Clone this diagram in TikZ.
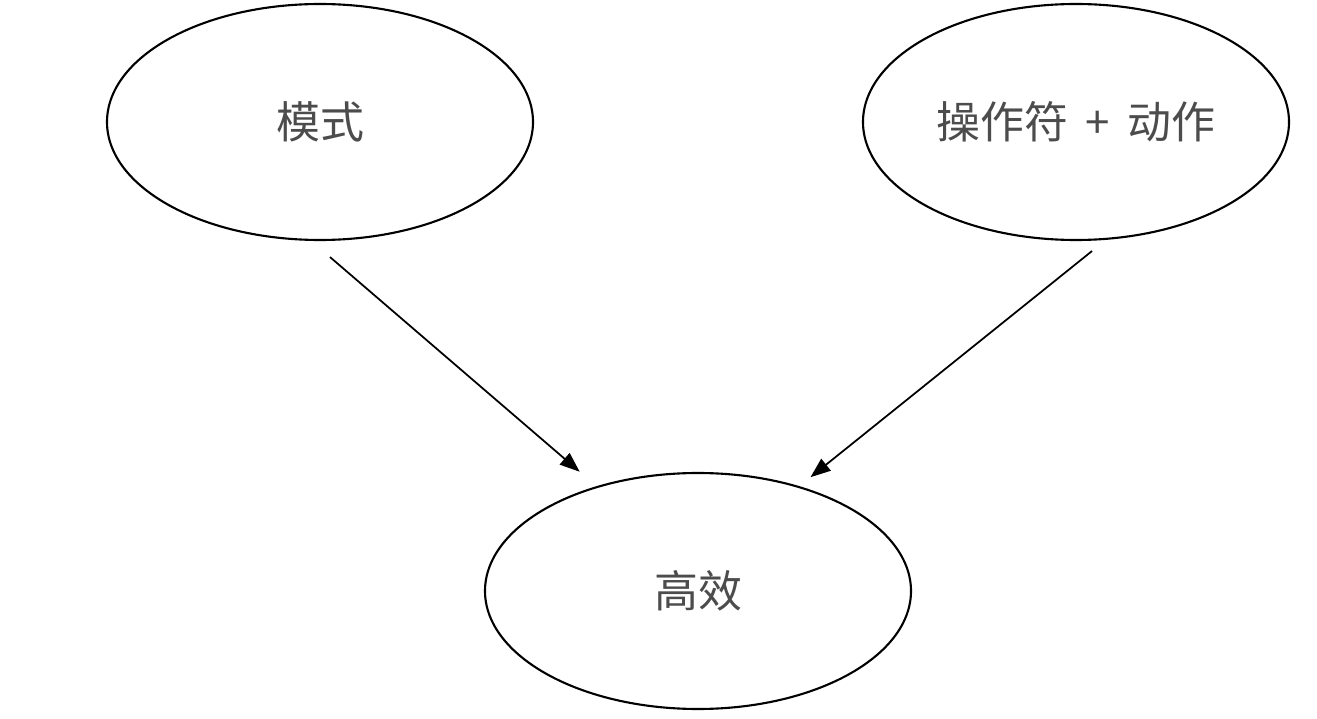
\documentclass[tikz,border=0pt]{standalone}
\usepackage{fontspec}
\newfontfamily\cjk{Noto Sans CJK SC}
\usetikzlibrary{shapes.geometric,arrows.meta,positioning}
\tikzstyle{idea} = [ellipse, draw, line width=1.2pt, inner sep=0pt,
  minimum width=8.52cm, minimum height=4.72cm, text=black!70,
  font=\cjk\fontsize{25}{30}\selectfont]
\tikzstyle{line} = [draw, -{Triangle[length=4mm,width=3mm]}, line width=1pt]

\begin{document}
\begin{tikzpicture}

      \useasboundingbox (0,0) rectangle (26.34,-14.38);

      \node [idea] (mode) at (6.40,-2.44) {模式};
      \node [idea] (ops) at (21.52,-2.44) {操作符 \,+\, 动作};
      \node [idea] (eff) at (13.96,-11.82) {高效};

      \path [line] ([shift={(0.2,-0.32)}]mode.south) -- ([shift={(0,0.4)}]eff.140);
      \path [line] ([shift={(0.32,-0.2)}]ops.south) -- ([shift={(0,0.25)}]eff.42);

\end{tikzpicture}
\end{document}
